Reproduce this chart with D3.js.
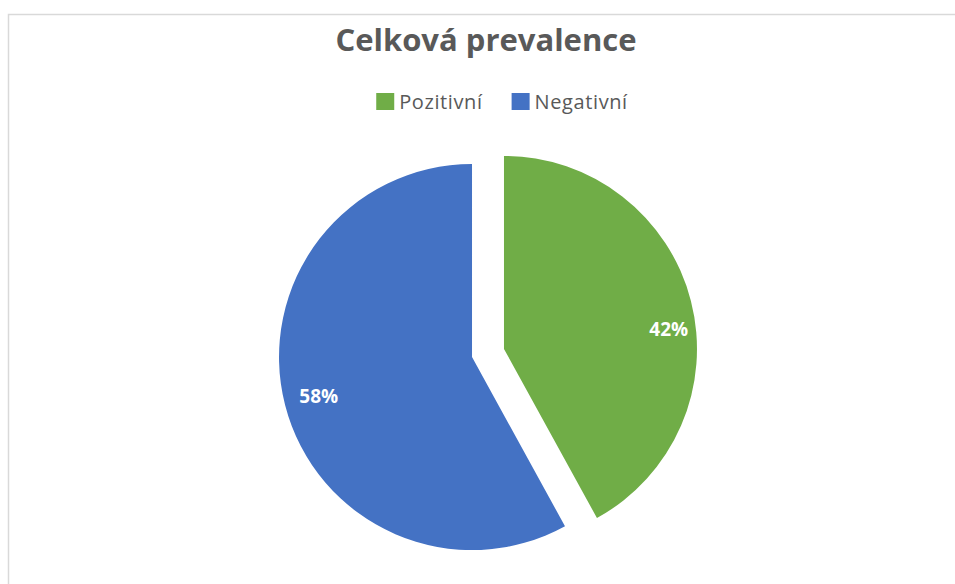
<!DOCTYPE html>
<html>
<head>
<meta charset="utf-8">
<script src="https://cdn.jsdelivr.net/npm/d3@7"></script>
<style>
	body { margin: 0; background: #fff; }
	svg { display: block; }
</style>
</head>
<body>
<main></main>
<script>
const chartTitle = "Celková prevalence";
const categories = ["Pozitivní", "Negativní"];
const values = [42, 58];
const colors = ["#70AD47", "#4472C4"];

function pieChart() {
	const width = 955;
	const height = 584;
	const center = { x: 488, y: 353 };
	const radius = 193;
	const explode = 16.5;
	// where along each slice the data label sits (best-fit look)
	const labelSpan = [0.55, 0.5];
	const labelRadius = [0.86, 0.82];

	const svg = d3.select("main")
		.append("svg")
		.attr("width", width)
		.attr("height", height);

	// chart area border (right/bottom edges fall outside the picture)
	svg.append("rect")
		.attr("x", 8.5)
		.attr("y", 14.5)
		.attr("width", width + 20)
		.attr("height", height + 20)
		.attr("fill", "#fff")
		.attr("stroke", "#d9d9d9")
		.attr("stroke-width", 1.5);

	svg.append("text")
		.attr("x", 486)
		.attr("y", 51)
		.attr("text-anchor", "middle")
		.style("font-family", "'Open Sans', sans-serif")
		.style("font-weight", "bold")
		.style("font-size", "31px")
		.attr("fill", "#595959")
		.text(chartTitle);

	// legend
	const legend = svg.append("g");
	let lx = 0;
	categories.forEach((c, i) => {
		const item = legend.append("g").attr("transform", `translate(${lx},0)`);
		item.append("rect")
			.attr("x", 0)
			.attr("y", -16)
			.attr("width", 18)
			.attr("height", 17)
			.attr("fill", colors[i]);
		const t = item.append("text")
			.attr("x", 23)
			.attr("y", 0)
			.style("font-family", "'Open Sans', sans-serif")
			.style("font-size", "20px")
			.style("letter-spacing", "0.6px")
			.attr("fill", "#595959")
			.text(c);
		lx += 23 + t.node().getComputedTextLength() + 29;
	});
	const lw = lx - 29;
	legend.attr("transform", `translate(${502 - lw / 2},109)`);

	const pie = d3.pie().sort(null).value(d => d);
	const arcs = pie(values);
	const arc = d3.arc().innerRadius(0).outerRadius(radius);

	const g = svg.append("g")
		.attr("transform", `translate(${center.x},${center.y})`);

	const slices = g.selectAll("g.slice")
		.data(arcs)
		.enter()
		.append("g")
		.attr("class", "slice")
		.attr("transform", d => {
			const a = (d.startAngle + d.endAngle) / 2;
			return `translate(${explode * Math.sin(a)},${-explode * Math.cos(a)})`;
		});

	slices.append("path")
		.attr("d", arc)
		.attr("fill", (d, i) => colors[i]);

	slices.append("text")
		.attr("transform", (d, i) => {
			const a = d.startAngle + (d.endAngle - d.startAngle) * labelSpan[i];
			const r = radius * labelRadius[i];
			return `translate(${r * Math.sin(a)},${-r * Math.cos(a)})`;
		})
		.attr("text-anchor", "middle")
		.attr("dy", "0.36em")
		.style("font-family", "'Open Sans', sans-serif")
		.style("font-weight", "bold")
		.style("font-size", "19px")
		.attr("fill", "#fff")
		.text(d => `${d.data}%`);
}
pieChart();
</script>
</body>
</html>
